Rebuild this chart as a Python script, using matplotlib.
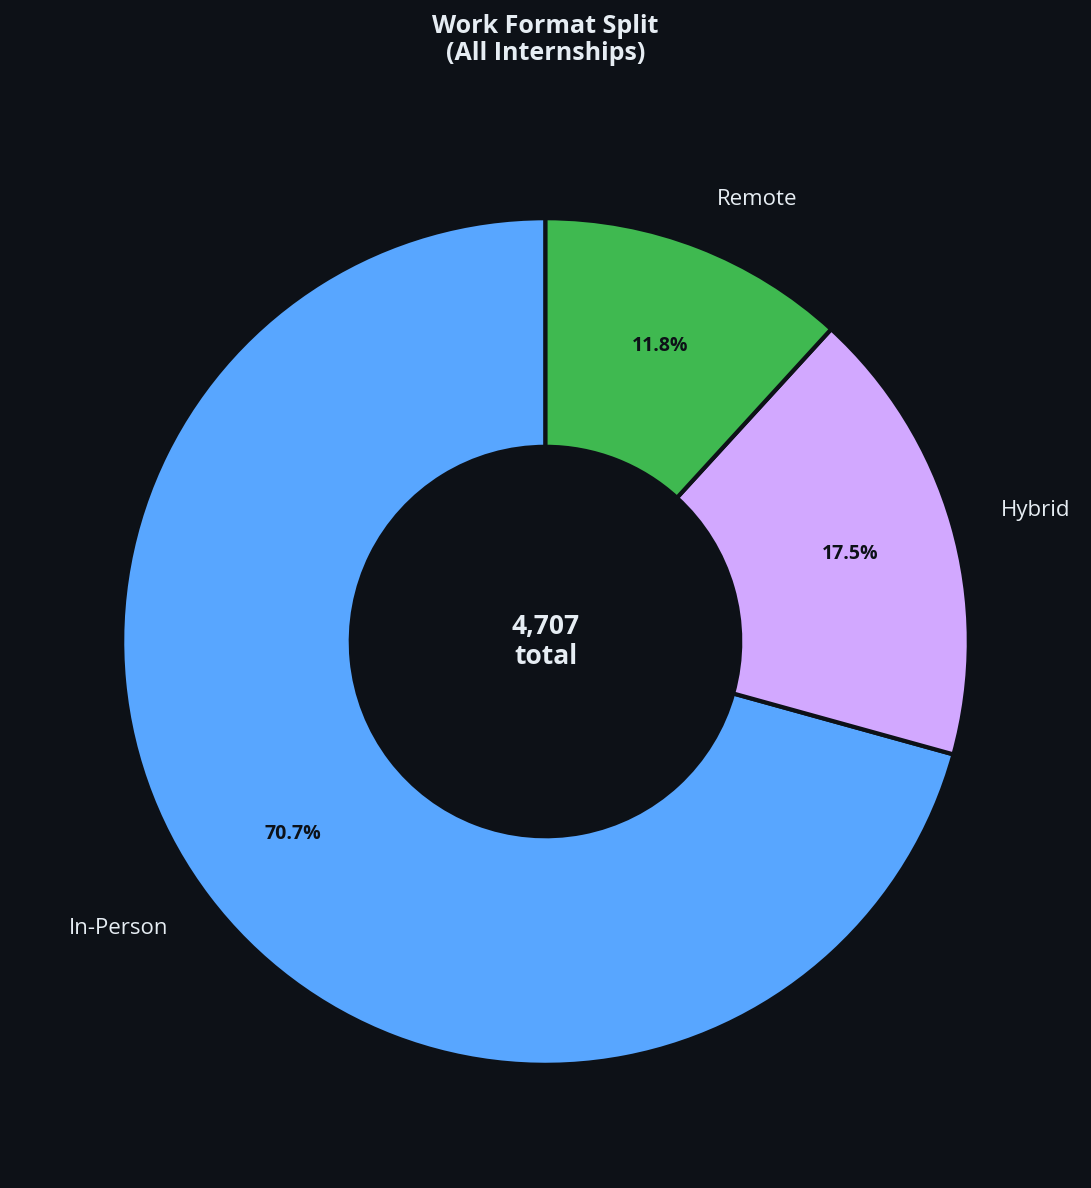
import matplotlib
matplotlib.use("Agg")
import matplotlib.pyplot as plt

labels = ["In-Person", "Hybrid", "Remote"]
counts = [3328, 824, 555]
colors = ["#58a6ff", "#d2a8ff", "#3fb950"]
bg = "#0d1117"
plt.rcParams['font.family'] = ['Open Sans', 'DejaVu Sans']

fig = plt.figure(figsize=(10.91, 11.88), dpi=100, facecolor=bg)
ax = fig.add_axes([0.015, 0.0065, 0.97, 0.907])
ax.set_facecolor(bg)
wedges, texts, autotexts = ax.pie(counts, labels=labels, colors=colors, startangle=90,
       autopct='%1.1f%%', pctdistance=0.75, labeldistance=1.12,
       wedgeprops=dict(width=0.54, edgecolor=bg, linewidth=3))
for t in texts:
    t.set_color("#e6edf3"); t.set_fontsize(16)
for t in autotexts:
    t.set_color("#0d1117"); t.set_fontsize(14); t.set_fontweight("bold")
ax.text(0, 0, f"{sum(counts):,}\ntotal", ha='center', va='center', color="#e6edf3",
        fontsize=19, fontweight='bold', linespacing=1.1)
ax.set_aspect('equal')
fig.suptitle("Work Format Split\n(All Internships)", color="#e6edf3", fontsize=18,
             fontweight='bold', y=0.988, linespacing=1.1)
fig.savefig("out.png", facecolor=bg)
